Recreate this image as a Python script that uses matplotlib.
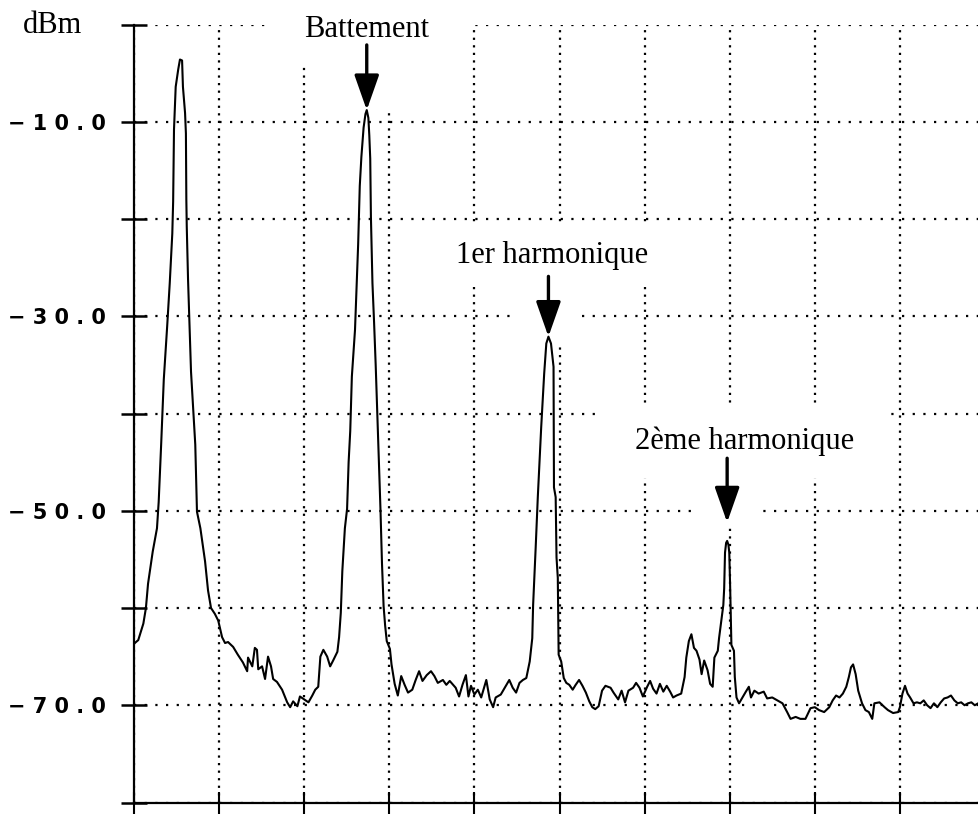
import matplotlib
matplotlib.use("Agg")
import matplotlib.pyplot as plt
from matplotlib.patches import Rectangle

# Spectrum trace: frequency in screen divisions, level in dBm
freq = [
    0.01, 0.05, 0.11, 0.14, 0.165, 0.22, 0.27, 0.29, 0.32, 0.35, 0.39, 0.42,
    0.45, 0.46, 0.47, 0.49, 0.52, 0.54, 0.565, 0.575, 0.60, 0.61, 0.615, 0.62,
    0.635, 0.67, 0.72, 0.74, 0.78, 0.835, 0.87, 0.905, 0.95, 0.99, 1.035, 1.07,
    1.105, 1.165, 1.22, 1.28, 1.33, 1.34, 1.39, 1.42, 1.445, 1.46, 1.505, 1.54,
    1.575, 1.61, 1.635, 1.68, 1.74, 1.80, 1.835, 1.87, 1.92, 1.95, 2.0, 2.05,
    2.095, 2.13, 2.165, 2.19, 2.225, 2.27, 2.305, 2.34, 2.39, 2.41, 2.43, 2.448,
    2.478, 2.504, 2.522, 2.541, 2.56, 2.597, 2.616, 2.634, 2.653, 2.672, 2.698,
    2.72, 2.735, 2.754, 2.765, 2.776, 2.784, 2.802, 2.821, 2.84, 2.858, 2.877,
    2.896, 2.914, 2.933, 2.951, 2.97, 3.007, 3.026, 3.063, 3.10, 3.14, 3.18,
    3.22, 3.27, 3.31, 3.35, 3.39, 3.44, 3.49, 3.53, 3.57, 3.63, 3.67, 3.71,
    3.78, 3.82, 3.86, 3.90, 3.93, 3.96, 4.0, 4.04, 4.08, 4.14, 4.18, 4.22,
    4.25, 4.31, 4.37, 4.41, 4.45, 4.49, 4.53, 4.57, 4.61, 4.65, 4.68, 4.69,
    4.72, 4.745, 4.785, 4.82, 4.845, 4.87, 4.90, 4.93, 4.935, 4.955, 4.965,
    4.98, 4.99, 5.02, 5.05, 5.08, 5.115, 5.155, 5.19, 5.23, 5.27, 5.31, 5.35,
    5.385, 5.42, 5.46, 5.5, 5.54, 5.6, 5.635, 5.69, 5.73, 5.77, 5.81, 5.865,
    5.9, 5.94, 5.98, 6.03, 6.065, 6.10, 6.14, 6.18, 6.22, 6.26, 6.30, 6.335,
    6.375, 6.43, 6.47, 6.49, 6.52, 6.55, 6.58, 6.61, 6.645, 6.67, 6.70, 6.74,
    6.77, 6.80, 6.82, 6.86, 6.875, 6.90, 6.925, 6.935, 6.945, 6.958, 6.97,
    6.985, 6.995, 7.005, 7.012, 7.02, 7.05, 7.06, 7.08, 7.11, 7.15, 7.19,
    7.225, 7.25, 7.29, 7.34, 7.40, 7.44, 7.50, 7.56, 7.62, 7.675, 7.715, 7.775,
    7.83, 7.89, 7.95, 8.0, 8.05, 8.11, 8.17, 8.21, 8.25, 8.29, 8.33, 8.37,
    8.40, 8.425, 8.45, 8.48, 8.51, 8.555, 8.595, 8.635, 8.675, 8.70, 8.76,
    8.82, 8.86, 8.92, 8.98, 9.0, 9.03, 9.06, 9.09, 9.12, 9.16, 9.20, 9.24,
    9.28, 9.32, 9.36, 9.40, 9.44, 9.48, 9.52, 9.56, 9.60, 9.64, 9.68, 9.72,
    9.76, 9.80, 9.84, 9.88, 9.92, 9.96,
]
level = [
    -63.6, -63.3, -61.6, -60.0, -57.5, -54.2, -51.8, -49.1, -43.0, -36.5, -31.0, -26.6,
    -21.5, -18.2, -10.8, -6.4, -4.6, -3.6, -3.7, -6.4, -9.1, -11.2, -18.0, -20.8,
    -26.2, -35.7, -43.2, -50.1, -51.8, -55.2, -58.2, -60.0, -60.6, -61.3, -63.0, -63.6,
    -63.5, -64.0, -64.8, -65.6, -66.5, -65.1, -66.0, -64.1, -64.3, -66.3, -66.0, -67.3,
    -65.0, -66.0, -67.3, -67.6, -68.4, -69.7, -70.2, -69.6, -70.1, -69.1, -69.4, -69.7,
    -69.0, -68.4, -68.1, -65.0, -64.3, -65.0, -66.0, -65.4, -64.5, -63.0, -60.5, -56.2,
    -51.8, -49.8, -45.0, -41.8, -36.2, -31.4, -27.0, -22.6, -16.6, -13.6, -10.6,
    -9.2, -8.8, -9.6, -11.4, -13.8, -19.8, -26.6, -30.6, -35.0, -39.8, -45.0,
    -49.8, -55.4, -59.8, -61.8, -63.4, -64.2, -65.8, -67.8, -69.0, -67.0, -67.9,
    -68.7, -68.4, -67.4, -66.5, -67.5, -66.9, -66.5, -67.0, -67.7, -67.4, -67.9, -67.5,
    -68.2, -69.1, -67.9, -66.9, -69.1, -68.0, -68.9, -68.4, -69.2, -67.4, -69.4, -70.2,
    -69.2, -68.9, -68.0, -67.4, -68.2, -68.7, -67.7, -67.4, -67.2, -65.5, -63.1, -59.7,
    -53.8, -48.6, -41.4, -35.9, -32.8, -32.1, -32.8, -35.2, -47.6, -48.6, -54.8,
    -56.9, -64.8, -65.5, -67.2, -67.7, -67.9, -68.4, -67.9, -67.4, -68.0, -68.7, -69.6,
    -70.2, -70.4, -70.1, -68.5, -68.0, -68.2, -68.7, -69.4, -68.5, -69.7, -68.5, -68.2,
    -67.7, -68.2, -69.1, -68.1, -67.5, -68.3, -68.8, -67.8, -68.6, -68.0, -68.6, -69.2,
    -69.0, -68.8, -67.1, -65.1, -63.4, -62.7, -64.1, -64.4, -65.3, -66.8, -65.4, -66.4,
    -67.8, -68.1, -65.1, -64.4, -63.1, -61.4, -59.7, -58.0, -54.3, -53.3, -53.1,
    -53.5, -54.3, -57.7, -60.7, -63.8, -64.4, -67.1, -69.2, -69.8, -69.2, -68.6,
    -68.1, -69.2, -68.5, -68.8, -68.6, -69.3, -69.2, -69.5, -69.8, -70.7, -71.4, -71.2,
    -71.4, -71.4, -70.3, -70.2, -70.5, -70.7, -70.2, -69.5, -69.0, -69.2, -68.8, -68.1,
    -67.1, -66.1, -65.8, -66.8, -68.5, -69.8, -70.5, -70.7, -71.4, -69.8, -69.7,
    -70.2, -70.5, -70.8, -70.7, -70.2, -68.8, -68.0, -68.8, -69.2, -69.8, -69.7, -69.8,
    -69.5, -70.0, -70.3, -69.8, -70.2, -69.7, -69.3, -69.2, -69.0, -69.5, -69.8, -69.7,
    -70.0, -69.8, -69.7, -70.0, -69.8, -70.3,
]

# Marked lines
peak_names = ["Battement", "1er harmonique", "2ème harmonique"]
peak_freqs = [2.735, 4.87, 6.97]
peak_levels = [-8.8, -32.1, -53.1]

y_ticks = [0, -10, -20, -30, -40, -50, -60, -70, -80]
y_labelled = [-10, -30, -50, -70]
x_ticks = [0, 1, 2, 3, 4, 5, 6, 7, 8, 9, 10]

W, H = 979, 817
fig = plt.figure(figsize=(W / 100, H / 100), dpi=100)
ax = fig.add_axes([134 / W, 14.5 / H, 851 / W, 778 / H])
ax.set_xlim(0, 10)
ax.set_ylim(-80, 0)

# dotted graticule
ax.set_axisbelow(True)
ax.xaxis.grid(True, color="k", lw=1.6, linestyle=(0, (1, 2.4)))
ax.yaxis.grid(True, color="k", lw=1.6, linestyle=(0, (1, 3.8)))

for side in ("top", "right"):
    ax.spines[side].set_visible(False)
for side in ("left", "bottom"):
    ax.spines[side].set_linewidth(1.6)

ax.set_xticks(x_ticks)
ax.set_xticklabels([])
ax.set_yticks(y_ticks)


def fmt(v):
    s = f"{v:.1f}".replace("-", "\u2212")
    return " ".join(s)


ax.set_yticklabels([fmt(v) if v in y_labelled else "" for v in y_ticks],
                   family="DejaVu Sans", fontsize=15, fontweight="bold")
ax.tick_params(axis="y", direction="inout", length=19, width=1.8, pad=11)
ax.tick_params(axis="x", direction="inout", length=16, width=1.5)

# blank patches behind the pasted labels and arrows
label_boxes = [
    ((1.62, -3.96), 2.29, 6.6), ((2.42, -8.6), 0.64, 4.7),
    ((3.36, -27.0), 2.81, 6.6), ((4.50, -33.0), 0.71, 6.0),
    ((5.47, -46.6), 3.34, 7.5), ((6.61, -51.5), 0.70, 4.9),
]
for (x0, y0), w, h in label_boxes:
    ax.add_patch(Rectangle((x0, y0), w, h, facecolor="white", edgecolor="none",
                           zorder=1, clip_on=False))

ax.plot(freq, level, color="k", lw=1.5, zorder=2)

tip_gap = [0.0, 0.0, 1.9]
arrow_len = [6.7, 6.2, 6.6]
text_dx = [0.0, 0.04, 0.2]
text_gap = [0.8, 1.4, 1.0]
for name, fx, lv, g, L, dx, tg in zip(peak_names, peak_freqs, peak_levels,
                                      tip_gap, arrow_len, text_dx, text_gap):
    tip = lv + g
    tail = tip + L
    ax.annotate("", xy=(fx, tip), xytext=(fx, tail),
                arrowprops=dict(arrowstyle="-|>,head_length=1.08,head_width=0.38",
                                mutation_scale=20, lw=2.4, color="k",
                                shrinkA=0, shrinkB=0),
                zorder=3, annotation_clip=False)
    ax.text(fx + dx, tail + tg, name, ha="center", va="baseline",
            family="Liberation Serif", fontsize=22, zorder=3, clip_on=False)

fig.text(53 / W, 1 - 33 / H, "dBm", ha="center", va="baseline",
         family="Liberation Serif", fontsize=22)

fig.savefig("out.png", dpi=100, facecolor="white")
